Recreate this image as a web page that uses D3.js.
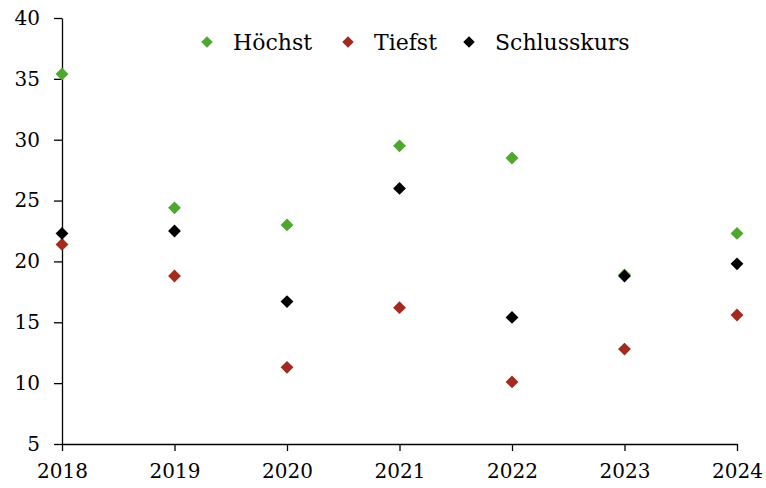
<!DOCTYPE html>
<html>
<head>
<meta charset="utf-8">
<script src="https://cdn.jsdelivr.net/npm/d3@7"></script>
<style>
  body { margin: 0; background: #fff; }
  svg { display: block; }
  svg text { font-family: "DejaVu Serif", "Liberation Serif", serif; }
</style>
</head>
<body>
<svg id="chart" width="766" height="488"></svg>
<script>
const years = [2018, 2019, 2020, 2021, 2022, 2023, 2024];
const hoechst = [35.4, 24.4, 23.0, 29.5, 28.5, 18.9, 22.3];
const tiefst = [21.4, 18.8, 11.3, 16.2, 10.1, 12.8, 15.6];
const schluss = [22.3, 22.5, 16.7, 26.0, 15.4, 18.8, 19.8];
const yTicks = [5, 10, 15, 20, 25, 30, 35, 40];

const series = [
    { name: "Höchst", values: hoechst, color: "#4ea72e" },
    { name: "Tiefst", values: tiefst, color: "#a32a1f" },
    { name: "Schlusskurs", values: schluss, color: "#000000" }
];

const svg = d3.select("#chart");
const margin = { top: 18, right: 29, bottom: 44, left: 62 };
const width = 766, height = 488;
const serif = "'DejaVu Serif', 'Liberation Serif', serif";

const x = d3.scaleLinear()
    .domain([2018, 2024])
    .range([margin.left, width - margin.right]);

const y = d3.scaleLinear()
    .domain([5, 40])
    .range([height - margin.bottom, margin.top]);

// Achsen
const xAxis = svg.append("g")
    .attr("transform", `translate(0, ${height - margin.bottom})`)
    .call(d3.axisBottom(x).tickValues(years).tickFormat(d3.format("d")).tickSize(7).tickSizeOuter(0));

const yAxis = svg.append("g")
    .attr("transform", `translate(${margin.left}, 0)`)
    .call(d3.axisLeft(y).tickValues(yTicks).tickSize(8).tickSizeOuter(0));

[xAxis, yAxis].forEach(g => {
    g.attr("font-family", serif).attr("font-size", 20);
    g.select(".domain").attr("stroke", "#000").attr("stroke-width", 1.3);
    g.selectAll(".tick line").attr("stroke", "#000").attr("stroke-width", 1.3);
    g.selectAll(".tick text").attr("fill", "#000");
});
xAxis.selectAll(".tick text").attr("y", 13).attr("dy", "1.05em");
yAxis.selectAll(".tick text").attr("x", -22);

const diamond = d3.symbol().type(d3.symbolDiamond2).size(105);

// Punkte
series.forEach(s => {
    svg.append("g")
        .selectAll("path")
        .data(s.values)
        .join("path")
        .attr("d", diamond)
        .attr("transform", (d, i) => `translate(${x(years[i])}, ${y(d)})`)
        .attr("fill", s.color);
});

// Legende
const legendPos = [207, 348, 469];
const legend = svg.append("g");
series.forEach((s, i) => {
    legend.append("path")
        .attr("d", d3.symbol().type(d3.symbolDiamond2).size(85))
        .attr("transform", `translate(${legendPos[i]}, 42)`)
        .attr("fill", s.color);
    legend.append("text")
        .attr("x", legendPos[i] + 26)
        .attr("y", 50)
        .attr("fill", "#000")
        .attr("font-family", serif)
        .attr("font-size", 22)
        .text(s.name);
});
</script>
</body>
</html>
